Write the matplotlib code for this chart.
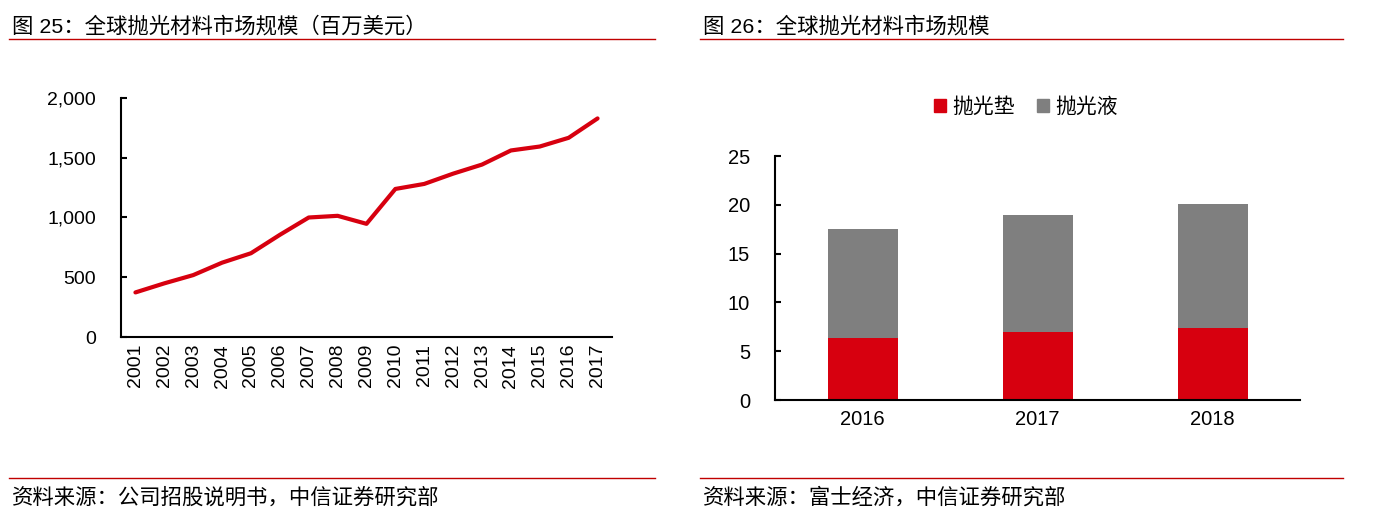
import matplotlib
matplotlib.use("Agg")
import matplotlib.pyplot as plt
from matplotlib.lines import Line2D
from matplotlib.patches import Patch

years = ["2001", "2002", "2003", "2004", "2005", "2006", "2007", "2008", "2009",
         "2010", "2011", "2012", "2013", "2014", "2015", "2016", "2017"]
market = [373, 449, 518, 622, 701, 855, 1000, 1014, 947,
          1239, 1281, 1367, 1443, 1561, 1594, 1667, 1829]

bar_years = ["2016", "2017", "2018"]
pad = [6.4, 7.0, 7.4]
slurry = [11.1, 12.0, 12.7]
series_names = ["抛光垫", "抛光液"]

RED = "#D7000F"
GRAY = "#7F7F7F"
LINE_RED = "#C00000"
CJK = ["Liberation Sans", "Noto Sans CJK SC"]
plt.rcParams["font.family"] = CJK

W, H = 1379, 511
fig = plt.figure(figsize=(W / 100, H / 100), dpi=100)

def fx(x):
    return x / W

def fy(y):
    return 1 - y / H

# Titles and rules
fig.text(fx(12), fy(26), "图 25：全球抛光材料市场规模（百万美元）", fontsize=15.4,
         va="center", ha="left", color="#000000")
fig.text(fx(703), fy(26), "图 26：全球抛光材料市场规模", fontsize=15.4,
         va="center", ha="left", color="#000000")
for x0, x1 in [(9, 655), (700, 1343)]:
    fig.add_artist(Line2D([fx(x0), fx(x1)], [fy(39), fy(39)], color=LINE_RED, lw=1.0))
    fig.add_artist(Line2D([fx(x0), fx(x1)], [fy(478), fy(478)], color=LINE_RED, lw=1.0))
fig.text(fx(12), fy(497), "资料来源：公司招股说明书，中信证券研究部", fontsize=15.4,
         va="center", ha="left")
fig.text(fx(703), fy(497), "资料来源：富士经济，中信证券研究部", fontsize=15.4,
         va="center", ha="left")

# Left: line chart
ax1 = fig.add_axes([fx(121), fy(337), fx(612) - fx(121), fy(98) - fy(337)])
x = list(range(len(years)))
ax1.plot(x, market, color=RED, lw=3.0, solid_capstyle="round", solid_joinstyle="round")
ax1.set_xlim(-0.5, len(years) - 0.5)
ax1.set_ylim(0, 2000)
ax1.set_yticks([0, 500, 1000, 1500, 2000])
ax1.set_yticklabels(["0", "500", "1,000", "1,500", "2,000"])
ax1.set_xticks(x)
ax1.set_xticklabels(years, rotation=90)
for s in ["top", "right"]:
    ax1.spines[s].set_visible(False)
for s in ["left", "bottom"]:
    ax1.spines[s].set_linewidth(1.5)
ax1.tick_params(axis="y", direction="in", length=4, width=1.5, pad=18, labelsize=14)
ax1.tick_params(axis="x", length=0, pad=5, labelsize=14)

# Right: stacked bars
ax2 = fig.add_axes([fx(775), fy(400), fx(1300) - fx(775), fy(156) - fy(400)])
xb = list(range(len(bar_years)))
ax2.bar(xb, pad, width=0.4, color=RED, label=series_names[0])
ax2.bar(xb, slurry, width=0.4, bottom=pad, color=GRAY, label=series_names[1])
ax2.set_xlim(-0.5, len(bar_years) - 0.5)
ax2.set_ylim(0, 25)
ax2.set_yticks([0, 5, 10, 15, 20, 25])
ax2.set_xticks(xb)
ax2.set_xticklabels(bar_years)
for s in ["top", "right"]:
    ax2.spines[s].set_visible(False)
for s in ["left", "bottom"]:
    ax2.spines[s].set_linewidth(1.5)
ax2.tick_params(axis="y", direction="in", length=4, width=1.5, pad=18, labelsize=14.5)
ax2.tick_params(axis="x", length=0, pad=7, labelsize=14.5)

handles = [Patch(color=RED), Patch(color=GRAY)]
fig.legend(handles, series_names, loc="center", bbox_to_anchor=(fx(1026), fy(107)),
           ncol=2, frameon=False, fontsize=15, handlelength=0.55, handleheight=0.55,
           handletextpad=0.3, columnspacing=1.1)

fig.savefig("out.png", dpi=100)
